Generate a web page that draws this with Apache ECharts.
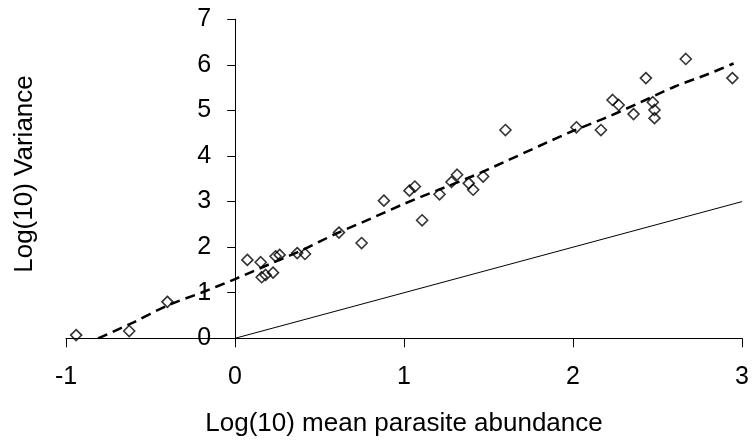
<!DOCTYPE html>
<html>
<head>
<meta charset="utf-8">
<script src="https://cdn.jsdelivr.net/npm/echarts@6/dist/echarts.min.js"></script>
<style>
html,body{margin:0;padding:0;background:#fff;}
#chart{width:752px;height:441px;}
</style>
</head>
<body>
<div id="chart"></div>
<script>
// Observed points: log10 mean abundance (x) and log10 variance (y)
var pointX = [-0.94, -0.626, -0.40, 0.073, 0.152, 0.158, 0.181, 0.225, 0.24, 0.264, 0.368, 0.414,
  0.615, 0.749, 0.881, 1.032, 1.064, 1.107, 1.21, 1.281, 1.314, 1.383, 1.409, 1.468,
  1.60, 2.02, 2.165, 2.234, 2.27, 2.358, 2.431, 2.472, 2.482, 2.482, 2.667, 2.943];
var pointY = [0.07, 0.16, 0.80, 1.72, 1.67, 1.34, 1.39, 1.44, 1.80, 1.83, 1.87, 1.85,
  2.32, 2.09, 3.02, 3.24, 3.33, 2.59, 3.16, 3.43, 3.59, 3.40, 3.26, 3.55,
  4.57, 4.63, 4.57, 5.23, 5.12, 4.92, 5.71, 5.18, 5.01, 4.83, 6.13, 5.71];

// Fitted (dashed) curve
var fitX = [-0.81, -0.6, -0.4, -0.2, 0, 0.2, 0.4, 0.6, 0.8, 1.0, 1.2, 1.4, 1.6, 1.8, 2.0, 2.2, 2.4, 2.6, 2.8, 2.95];
var fitY = [0, 0.35, 0.72, 1.0, 1.3, 1.62, 1.94, 2.3, 2.62, 2.95, 3.25, 3.55, 3.88, 4.22, 4.55, 4.85, 5.18, 5.52, 5.8, 6.03];

// Reference line y = x (variance = mean)
var refX = [0, 3];
var refY = [0, 3];

var xTicks = [-1, 0, 1, 2, 3];
var yTicks = [0, 1, 2, 3, 4, 5, 6, 7];

var xTitle = 'Log(10) mean parasite abundance';
var yTitle = 'Log(10) Variance';

function zip(a, b) { return a.map(function (v, i) { return [v, b[i]]; }); }

var FONT = 'Liberation Sans, Arial, sans-serif';
var GRID_LEFT = 66, GRID_RIGHT = 9.3;
var chart = echarts.init(document.getElementById('chart'), null, {renderer: 'canvas'});
// y-axis sits at x = 0: shift it inward by the pixel distance from the grid's left edge
var plotW = 752 - GRID_LEFT - GRID_RIGHT;
var yAxisShift = plotW * (0 - xTicks[0]) / (xTicks[xTicks.length - 1] - xTicks[0]);
chart.setOption({
  animation: false,
  backgroundColor: '#fff',
  grid: {left: GRID_LEFT, right: GRID_RIGHT, top: 19.3, bottom: 102.7, containLabel: false},
  xAxis: {
    type: 'value', min: xTicks[0], max: xTicks[xTicks.length - 1], interval: 1,
    axisLine: {onZero: true, lineStyle: {color: '#000', width: 1}},
    axisTick: {show: true, length: 9, lineStyle: {color: '#000'}},
    splitLine: {show: false},
    axisLabel: {color: '#000', fontSize: 25, fontFamily: FONT, margin: 26}
  },
  yAxis: {
    type: 'value', min: yTicks[0], max: yTicks[yTicks.length - 1], interval: 1,
    position: 'left', offset: -yAxisShift,
    axisLine: {show: true, onZero: false, lineStyle: {color: '#000', width: 1}},
    axisTick: {show: true, length: 8, lineStyle: {color: '#000'}},
    splitLine: {show: false},
    axisLabel: {color: '#000', fontSize: 25, fontFamily: FONT, margin: 24}
  },
  graphic: [
    {type: 'text', x: 404, y: 424, style: {text: xTitle, fill: '#000', font: '26px ' + FONT, textAlign: 'center', textVerticalAlign: 'middle'}},
    {type: 'text', x: 25, y: 174, rotation: Math.PI / 2, style: {text: yTitle, fill: '#000', font: '26px ' + FONT, textAlign: 'center', textVerticalAlign: 'middle'}}
  ],
  series: [
    {
      type: 'line', data: zip(refX, refY), symbol: 'none',
      lineStyle: {color: '#000', width: 1}, silent: true, z: 2
    },
    {
      type: 'line', data: zip(fitX, fitY), symbol: 'none', smooth: 0.3,
      lineStyle: {color: '#000', width: 2.5, type: [10, 6]}, silent: true, z: 3
    },
    {
      type: 'scatter', data: zip(pointX, pointY), symbol: 'diamond', symbolSize: [11, 11],
      itemStyle: {color: 'rgba(0,0,0,0)', borderColor: '#000', borderWidth: 1.6}, z: 4
    }
  ]
});
</script>
</body>
</html>
